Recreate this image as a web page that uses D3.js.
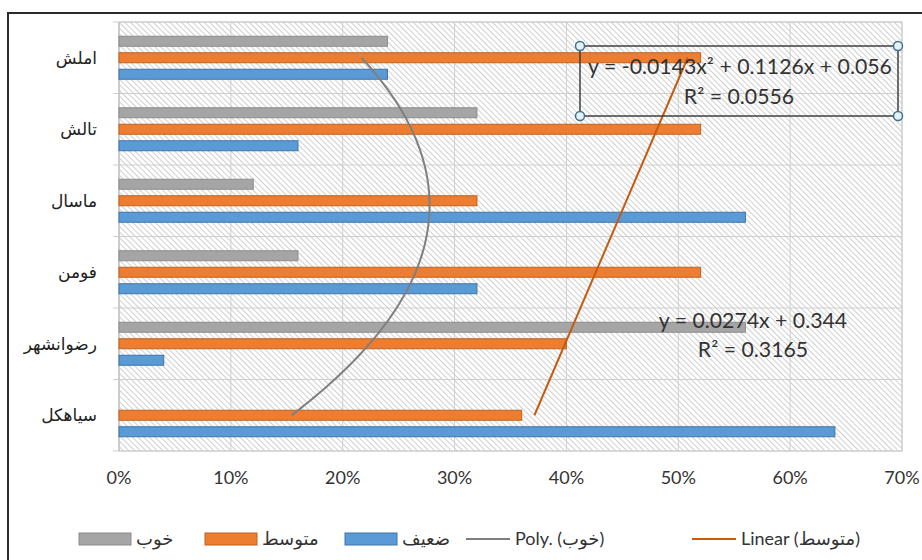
<!DOCTYPE html>
<html>
<head>
<meta charset="utf-8">
<script src="https://cdn.jsdelivr.net/npm/d3@7"></script>
<style>
  body { margin: 0; background: #fff; }
  svg { display: block; }
</style>
</head>
<body>
<div id="chart"></div>
<script>
// categories top to bottom
var categories = ["املش", "تالش", "ماسال", "فومن", "رضوانشهر", "سیاهکل"];
var seriesNames = ["خوب", "متوسط", "ضعیف"];
// values (fractions), same order as categories
var goodValues = [0.24, 0.32, 0.12, 0.16, 0.56, 0.00];
var mediumValues = [0.52, 0.52, 0.32, 0.52, 0.40, 0.36];
var weakValues = [0.24, 0.16, 0.56, 0.32, 0.04, 0.64];
var xTicks = [0, 0.1, 0.2, 0.3, 0.4, 0.5, 0.6, 0.7];
// trendline coefficients, as printed in the labels
var polyCoef = [-0.0143, 0.1126, 0.056];
var linearCoef = [0.0274, 0.344];
var polyLabel = ["y = -0.0143x² + 0.1126x + 0.056", "R² = 0.0556"];
var linearLabel = ["y = 0.0274x + 0.344", "R² = 0.3165"];
var legendLabels = ["خوب", "متوسط", "ضعیف", "Poly. (خوب)", "Linear (متوسط)"];

var colors = {
  "خوب": { fill: "#a5a5a5", stroke: "#8c8c8c" },
  "متوسط": { fill: "#ed7d31", stroke: "#c0621f" },
  "ضعیف": { fill: "#5b9bd5", stroke: "#3f74a8" }
};

var width = 922, height = 560;
var plot = { left: 119, right: 902, top: 22, bottom: 451 };

var svg = d3.select("#chart").append("svg")
  .attr("width", width)
  .attr("height", height);

// hatch pattern
var defs = svg.append("defs");
var pat = defs.append("pattern")
  .attr("id", "hatch")
  .attr("patternUnits", "userSpaceOnUse")
  .attr("width", 4)
  .attr("height", 4)
  .attr("patternTransform", "rotate(-45)");
pat.append("rect").attr("width", 4).attr("height", 4).attr("fill", "#fff");
pat.append("line")
  .attr("x1", 0).attr("y1", 0).attr("x2", 0).attr("y2", 4)
  .attr("stroke", "#a8a8a8").attr("stroke-width", 1.1);

// outer border (top and left visible)
svg.append("rect")
  .attr("x", 8).attr("y", 13)
  .attr("width", 930).attr("height", 560)
  .attr("fill", "none")
  .attr("stroke", "#2b2b2b")
  .attr("stroke-width", 2);

var x = d3.scaleLinear().domain([0, 0.7]).range([plot.left, plot.right]);
var y = d3.scaleBand().domain(categories).range([plot.top, plot.bottom]);
var inner = d3.scalePoint().domain(seriesNames).range([-16.5, 16.5]);
var barH = 10;

// plot background
svg.append("rect")
  .attr("x", plot.left).attr("y", plot.top)
  .attr("width", plot.right - plot.left).attr("height", plot.bottom - plot.top)
  .attr("fill", "url(#hatch)")
  .attr("stroke", "#c8c8c8");

// vertical gridlines
svg.append("g").selectAll("line")
  .data(xTicks)
  .enter().append("line")
  .attr("x1", d => x(d)).attr("x2", d => x(d))
  .attr("y1", plot.top).attr("y2", plot.bottom)
  .attr("stroke", "#cfcfcf").attr("stroke-width", 1);

// horizontal category separators + ticks
var bounds = categories.map(c => y(c)).concat([plot.bottom]);
svg.append("g").selectAll("line")
  .data(bounds)
  .enter().append("line")
  .attr("x1", plot.left - 6).attr("x2", plot.right)
  .attr("y1", d => d).attr("y2", d => d)
  .attr("stroke", "#cfcfcf").attr("stroke-width", 1);

svg.append("line")
  .attr("x1", plot.left).attr("x2", plot.left)
  .attr("y1", plot.top).attr("y2", plot.bottom)
  .attr("stroke", "#bfbfbf");

// bars
var seriesData = [goodValues, mediumValues, weakValues];
seriesNames.forEach(function (name, si) {
  svg.append("g").selectAll("rect")
    .data(categories)
    .enter().append("rect")
    .filter((c, i) => seriesData[si][i] > 0)
    .attr("x", x(0))
    .attr("y", c => y(c) + y.bandwidth() / 2 + inner(name) - barH / 2)
    .attr("width", c => x(seriesData[si][categories.indexOf(c)]) - x(0))
    .attr("height", barH)
    .attr("fill", colors[name].fill)
    .attr("stroke", colors[name].stroke)
    .attr("stroke-width", 1);
});

// category labels
svg.append("g").selectAll("text")
  .data(categories)
  .enter().append("text")
  .attr("x", 97)
  .attr("y", c => y(c) + y.bandwidth() / 2)
  .attr("dy", "0.35em")
  .attr("text-anchor", "end")
  .attr("font-family", "DejaVu Sans")
  .attr("font-size", 17)
  .attr("fill", "#222")
  .text(c => c);

// x axis labels
svg.append("g").selectAll("text")
  .data(xTicks)
  .enter().append("text")
  .attr("x", d => x(d))
  .attr("y", 484)
  .attr("text-anchor", "middle")
  .attr("font-family", "Lato")
  .attr("font-size", 18)
  .attr("fill", "#333")
  .text(d => d3.format(".0%")(d));

// trendlines: x index 1 = bottom category
var n = categories.length;
var tY = d3.scaleLinear()
  .domain([1, n])
  .range([y(categories[n - 1]) + y.bandwidth() / 2, y(categories[0]) + y.bandwidth() / 2]);
var ts = d3.range(1, n + 0.001, 0.05);

var polyLine = d3.line()
  .x(t => x(polyCoef[0] * t * t + polyCoef[1] * t + polyCoef[2]))
  .y(t => tY(t))
  .curve(d3.curveBasis);
svg.append("path")
  .datum(ts)
  .attr("d", polyLine)
  .attr("fill", "none")
  .attr("stroke", "#7f7f7f")
  .attr("stroke-width", 2);

var linLine = d3.line()
  .x(t => x(linearCoef[0] * t + linearCoef[1]))
  .y(t => tY(t));
svg.append("path")
  .datum([1, n])
  .attr("d", linLine)
  .attr("fill", "none")
  .attr("stroke", "#c55a11")
  .attr("stroke-width", 2);

// equation labels
function fitText(sel, w) {
  var len = sel.node().getComputedTextLength();
  var fs = +sel.attr("font-size");
  sel.attr("font-size", fs * w / len);
}

var box = { x0: 580, y0: 46, x1: 898, y1: 116 };
svg.append("rect")
  .attr("x", box.x0).attr("y", box.y0)
  .attr("width", box.x1 - box.x0).attr("height", box.y1 - box.y0)
  .attr("fill", "none")
  .attr("stroke", "#404040")
  .attr("stroke-width", 1.5);

var e1 = svg.append("text")
  .attr("x", 740).attr("y", 74)
  .attr("text-anchor", "middle")
  .attr("font-family", "Lato")
  .attr("font-size", 20)
  .attr("fill", "#333")
  .text(polyLabel[0]);
fitText(e1, 304);
var fsEq = +e1.attr("font-size");
svg.append("text")
  .attr("x", 739).attr("y", 104)
  .attr("text-anchor", "middle")
  .attr("font-family", "Lato")
  .attr("font-size", fsEq)
  .attr("fill", "#333")
  .text(polyLabel[1]);

[[box.x0, box.y0], [box.x1, box.y0], [box.x0, box.y1], [box.x1, box.y1]].forEach(function (p) {
  svg.append("circle")
    .attr("cx", p[0]).attr("cy", p[1]).attr("r", 4.5)
    .attr("fill", "#e4f1f7")
    .attr("stroke", "#41708c")
    .attr("stroke-width", 1.5);
});

svg.append("text")
  .attr("x", 753).attr("y", 328)
  .attr("text-anchor", "middle")
  .attr("font-family", "Lato")
  .attr("font-size", fsEq)
  .attr("fill", "#333")
  .text(linearLabel[0]);
svg.append("text")
  .attr("x", 753).attr("y", 357)
  .attr("text-anchor", "middle")
  .attr("font-family", "Lato")
  .attr("font-size", fsEq)
  .attr("fill", "#333")
  .text(linearLabel[1]);

// legend
var legendX = [79, 205, 345, 466, 692];
var legendY = 539;
legendLabels.forEach(function (lab, i) {
  var g = svg.append("g").attr("transform", "translate(" + legendX[i] + "," + legendY + ")");
  var sw;
  if (i < 3) {
    sw = 52;
    g.append("rect")
      .attr("x", 0).attr("y", -6)
      .attr("width", sw).attr("height", 12)
      .attr("fill", colors[seriesNames[i]].fill)
      .attr("stroke", colors[seriesNames[i]].stroke);
  } else {
    sw = 44;
    g.append("line")
      .attr("x1", 0).attr("x2", sw)
      .attr("y1", 0).attr("y2", 0)
      .attr("stroke", i === 3 ? "#7f7f7f" : "#c55a11")
      .attr("stroke-width", 2);
  }
  g.append("text")
    .attr("x", sw + 5)
    .attr("dy", "0.35em")
    .attr("font-family", "Lato, DejaVu Sans")
    .attr("font-size", 18)
    .attr("fill", "#333")
    .text(lab);
});
</script>
</body>
</html>
